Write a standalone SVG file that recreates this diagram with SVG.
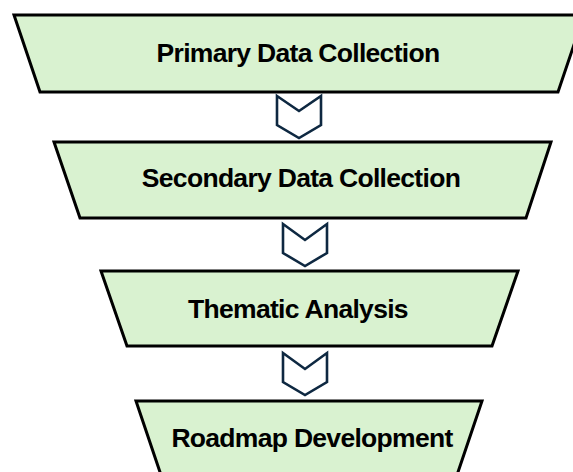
<svg xmlns="http://www.w3.org/2000/svg" width="573" height="472" viewBox="0 0 573 472">
<style>
.trap{fill:#d9f2d0;stroke:#000;stroke-width:3;stroke-linejoin:miter}
.lbl{font-family:"Liberation Sans",Arial,sans-serif;font-weight:bold;font-size:26.5px;letter-spacing:-0.7px;fill:#000;text-anchor:middle}
.chev{fill:#fff;stroke:#0e2841;stroke-width:2.6;stroke-linejoin:miter}
</style>
<rect width="573" height="472" fill="#fff"/>
<g id="node-primary">
<polygon class="trap" points="14,15 584,15 558,92 40,92"/>
<text class="lbl" x="298" y="62">Primary Data Collection</text>
</g>
<g id="node-secondary">
<polygon class="trap" points="54,142 551,142 526,218 80,218"/>
<text class="lbl" x="301" y="187">Secondary Data Collection</text>
</g>
<g id="node-thematic">
<polygon class="trap" points="101,271 518,271 492,346 127,346"/>
<text class="lbl" x="298" y="318">Thematic Analysis</text>
</g>
<g id="node-roadmap">
<polygon class="trap" points="136,401 482,401 456,478 162,478"/>
<text class="lbl" x="312" y="447">Roadmap Development</text>
</g>
<g id="connectors">
<polygon class="chev" points="277,96 299,111 321,96 321,125 299,138 277,125"/>
<polygon class="chev" points="283,224 305,240 327,224 327,253 305,266 283,253"/>
<polygon class="chev" points="283,353 305,369 327,353 327,382 305,395 283,382"/>
</g>
</svg>
